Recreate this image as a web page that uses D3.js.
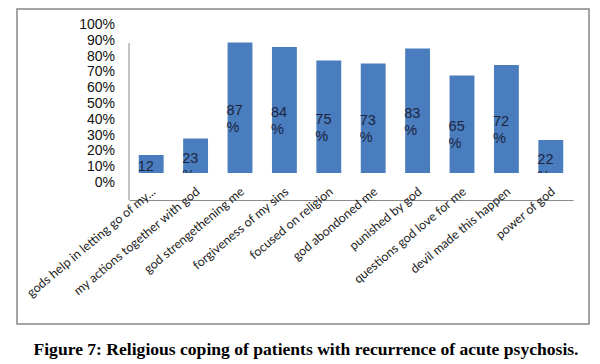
<!DOCTYPE html>
<html>
<head>
<meta charset="utf-8">
<script src="https://cdn.jsdelivr.net/npm/d3@7"></script>
<style>
  body { margin: 0; background: #fff; }
</style>
</head>
<body>
<div id="chart"></div>
<script>
// Religious coping bar chart (figure 7)
const categories = [
  "gods help in letting go of my...",
  "my actions together with god",
  "god strengethening me",
  "forgiveness of my sins",
  "focused on religion",
  "god abondoned me",
  "punished by god",
  "questions god love for me",
  "devil made this happen",
  "power of god"
];
const values = [12, 23, 87, 84, 75, 73, 83, 65, 72, 22];
const tickValues = [0, 10, 20, 30, 40, 50, 60, 70, 80, 90, 100];
const caption = "Figure 7: Religious coping of patients with recurrence of acute psychosis.";

const config = {
  width: 600,
  height: 364,
  frame: { x: 17, y: 9, w: 572, h: 315 },
  plot: { left: 129, right: 573, axisTop: 43, axisY: 200 },
  barBase: 173,
  barTop100: 23,
  tickLabelX: 115,
  tickRange: [182, 24],
  colors: {
    bar: "#4a7dbd",
    frame: "#8e8e8e",
    axis: "#8a8a8a",
    label: "#1c2540",
    text: "#111"
  }
};

const svg = d3.select("#chart").append("svg")
  .attr("width", config.width)
  .attr("height", config.height)
  .style("background", "#ffffff");

// outer frame
svg.append("rect")
  .attr("x", config.frame.x)
  .attr("y", config.frame.y)
  .attr("width", config.frame.w)
  .attr("height", config.frame.h)
  .attr("fill", "none")
  .attr("stroke", config.colors.frame)
  .attr("stroke-width", 1.6);

// scales
const x = d3.scaleBand()
  .domain(categories)
  .range([config.plot.left, config.plot.right])
  .paddingInner(0.44)
  .paddingOuter(0.22);

const y = d3.scaleLinear()
  .domain([0, 100])
  .range([config.barBase, config.barTop100]);

const yTick = d3.scaleLinear()
  .domain([0, 100])
  .range(config.tickRange);

// y tick labels (offset from bars, as in the source figure)
const yAxis = svg.append("g")
  .attr("transform", `translate(${config.tickLabelX},0)`)
  .call(d3.axisLeft(yTick).tickValues(tickValues).tickSize(0).tickPadding(0).tickFormat(d => d + "%"));
yAxis.select(".domain").remove();
yAxis.selectAll("text")
  .style("font-family", "'Liberation Sans', Arial, sans-serif")
  .style("font-size", "14px")
  .attr("fill", config.colors.text);

// axis lines
svg.append("line")
  .attr("x1", config.plot.left).attr("x2", config.plot.left)
  .attr("y1", config.plot.axisTop).attr("y2", config.plot.axisY)
  .attr("stroke", config.colors.axis).attr("stroke-width", 1);

const xAxis = svg.append("g")
  .attr("transform", `translate(0,${config.plot.axisY})`)
  .call(d3.axisBottom(x).tickSize(0).tickSizeOuter(0));
xAxis.select(".domain").attr("stroke", config.colors.axis);
xAxis.selectAll("text")
  .attr("y", 0)
  .attr("dy", 0)
  .attr("text-anchor", "end")
  .attr("transform", "translate(5,-7) rotate(-40)")
  .style("font-family", "Lato, 'Open Sans', sans-serif")
  .style("font-size", "12.5px")
  .attr("fill", "#222");

// bars
svg.append("g")
  .selectAll("rect")
  .data(values)
  .join("rect")
  .attr("x", (d, i) => x(categories[i]))
  .attr("y", d => y(d))
  .attr("width", x.bandwidth())
  .attr("height", d => y(0) - y(d))
  .attr("fill", config.colors.bar);

// data labels, wrapped "NN" / "%" and clipped at the bar base
svg.append("clipPath")
  .attr("id", "label-clip")
  .append("rect")
  .attr("x", config.plot.left)
  .attr("y", 0)
  .attr("width", config.plot.right - config.plot.left)
  .attr("height", config.barBase);

const labels = svg.append("g")
  .attr("clip-path", "url(#label-clip)")
  .selectAll("text")
  .data(values)
  .join("text")
  .attr("x", (d, i) => x(categories[i]) - 1)
  .attr("y", d => (y(d) + y(0)) / 2 + 7)
  .style("font-family", "'Liberation Sans', Arial, sans-serif")
  .style("font-size", "14.5px")
  .attr("fill", config.colors.label);

labels.append("tspan").text(d => d);
labels.append("tspan")
  .attr("x", (d, i) => x(categories[i]) - 1)
  .attr("dy", 17)
  .text("%");

// caption
svg.append("text")
  .attr("x", 306)
  .attr("y", 355)
  .attr("text-anchor", "middle")
  .attr("textLength", 545)
  .attr("lengthAdjust", "spacingAndGlyphs")
  .style("font-family", "'Liberation Serif', 'Times New Roman', serif")
  .style("font-weight", "bold")
  .style("font-size", "16.5px")
  .attr("fill", "#000")
  .text(caption);
</script>
</body>
</html>
